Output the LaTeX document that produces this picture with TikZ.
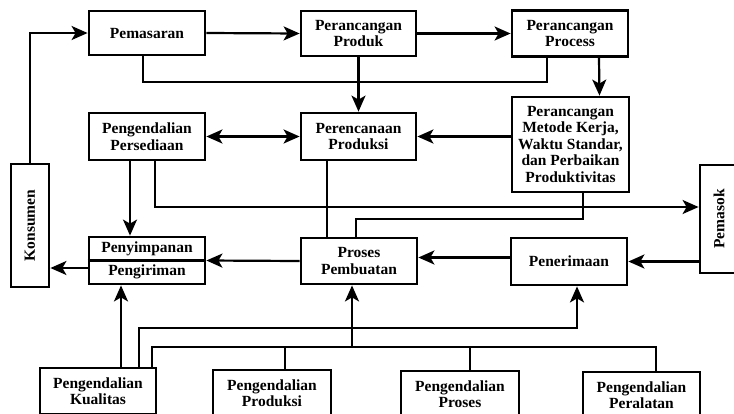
\documentclass[tikz,border=0pt]{standalone}
\usepackage{fontspec}
\usepackage{graphicx}
\setmainfont{Liberation Serif}
\usetikzlibrary{arrows.meta}
\begin{document}
\begin{tikzpicture}[x=1pt,y=-1pt,
  box/.style={draw, line width=2.8pt, rectangle, align=center, inner sep=1pt,
    font=\fontsize{15.5}{16.5}\selectfont\bfseries},
  link/.style={line width=2.2pt},
  tip/.tip={Stealth[length=16pt,width=14pt,inset=4pt]},
  arr/.style={link, -tip},
  dbl/.style={link, tip-tip}]
\useasboundingbox (0,0) rectangle (734,413);
\clip (0,0) rectangle (734,413);

% top row
\node[box, minimum width=116, minimum height=44] (pem)  at (147,33)    {Pemasaran};
\node[box, minimum width=115, minimum height=45] (prod) at (358.5,33.5) {Perancangan\\Produk};
\node[box, minimum width=116, minimum height=46] (proc) at (570,33.5)  {Perancangan\\Process};

% middle row
\node[box, minimum width=116, minimum height=47] (pers) at (147,136.5)   {Pengendalian\\Persediaan};
\node[box, minimum width=115, minimum height=47] (renc) at (358.5,136.5) {Perencanaan\\Produksi};
\node[box, minimum width=117, minimum height=95] (meto) at (570.5,144.5)
  {Perancangan\\Metode Kerja,\\Waktu Standar,\\dan Perbaikan\\Produktivitas};

% side boxes
\node[box, minimum width=38, minimum height=123] (kons) at (30,225.5) {\rotatebox{90}{Konsumen}};
\node[box, minimum width=38, minimum height=108] (pmsk) at (719,219)  {\rotatebox{90}{Pemasok}};

% lower row
\node[box, minimum width=116, minimum height=47] (simp) at (147,260.5) {Penyimpanan\\[6pt]Pengiriman};
\draw[line width=2.2pt] (simp.west) -- (simp.east);
\node[box, minimum width=116, minimum height=46] (pros) at (359,261)   {Proses\\Pembuatan};
\node[box, minimum width=116, minimum height=47] (trm)  at (569,261.5) {Penerimaan};

% control boxes along the bottom edge
\node[box, minimum width=116, minimum height=46] (qc)  at (98,391)    {Pengendalian\\Kualitas};
\node[box, minimum width=118, minimum height=46] (pc)  at (272,393)   {Pengendalian\\Produksi};
\node[box, minimum width=118, minimum height=46] (prc) at (460,394)   {Pengendalian\\Proses};
\node[box, minimum width=117, minimum height=46] (eqc) at (641.5,395) {Pengendalian\\Peralatan};

% helper points for the routed lines
\coordinate (b1) at (143,82);
\coordinate (b2) at (547,82);
\coordinate (mk) at (356,219);
\coordinate (bu) at (577,328);
\coordinate (bl) at (656,347);
\coordinate (bp) at (352,347);

% top flow
\draw[arr] (kons.north) |- (pem.west);
\draw[arr] (pem.east) -- (prod.west);
\draw[arr] (prod.east) -- (proc.west);
\draw[link] (pem.south -| b1) |- (b2) -- (proc.south -| b2);
\draw[arr] (prod.south) -- (renc.north);
\draw[arr] ([xshift=29pt]proc.south) -- ([xshift=29pt]meto.north);
\draw[arr] (meto.west |- renc.east) -- (renc.east);
\draw[dbl] (pers.east) -- (renc.west);

% from inventory control
\draw[arr] ([xshift=-17pt]pers.south) -- ([xshift=-17pt]simp.north);
\draw[arr] ([xshift=8pt]pers.south) |- ([yshift=12pt]pmsk.west);

% into manufacturing
\draw[link] ([xshift=-31.5pt]renc.south) -- ([xshift=-31.5pt]renc.south |- pros.north);
\draw[link] ([xshift=12.5pt]meto.south) |- (mk) -- (mk |- pros.north);

% material flow
\draw[arr] (pros.west) -- (simp.east);
\draw[arr] ([yshift=-7.5pt]simp.west) -- ([yshift=-7.5pt]simp.west -| kons.east);
\draw[arr] ([yshift=4pt]trm.west) -- ([yshift=4pt]trm.west -| pros.east);
\draw[arr] (pmsk.west |- trm.east) -- (trm.east);

% control buses
\draw[arr] ([xshift=23pt]qc.north) -- ([xshift=23pt]qc.north |- simp.south);
\draw[arr] ([xshift=41pt]qc.north) |- (bu) -- (bu |- trm.south);
\draw[link] ([xshift=54pt]qc.north) |- (bl) -- (bl |- eqc.north);
\draw[link] ([xshift=13pt]pc.north) -- ([xshift=13pt]pc.north |- bl);
\draw[link] ([xshift=10pt]prc.north) -- ([xshift=10pt]prc.north |- bl);
\draw[arr] (bp) -- (bp |- pros.south);
\end{tikzpicture}
\end{document}
